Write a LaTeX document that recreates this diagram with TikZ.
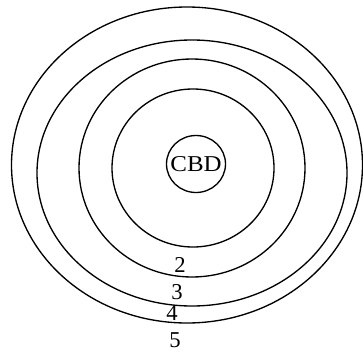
\documentclass[tikz,border=0pt]{standalone}
\usepackage{fontspec}
\setmainfont{Liberation Serif}
\usepackage{tikz}

\begin{document}
\begin{tikzpicture}[
    x=0.75pt, y=-0.75pt,
    ring/.style={draw, line width=1pt},
    zone/.style={inner sep=0pt, font=\fontsize{17}{20}\selectfont}
]
\useasboundingbox (0,0) rectangle (363,360);

% Rings
\draw[ring] (187,165) ellipse [x radius=175.5, y radius=158];
\draw[ring] (192,173) ellipse [x radius=155, y radius=133];
\draw[ring] (192,168) ellipse [x radius=113, y radius=109];
\draw[ring] (193,168) ellipse [x radius=81, y radius=79];

% Centre
\draw[ring] (196,164) ellipse [x radius=29.5, y radius=28.5];
\node[zone] (cbd) at (196,164) {\scalebox{1.1}[1]{CBD}};

% Zone numbers
\node[zone] (z2) at (180,265) {2};
\node[zone] (z3) at (177,292) {3};
\node[zone] (z4) at (172,313) {4};
\node[zone] (z5) at (175,340) {5};

\end{tikzpicture}
\end{document}
